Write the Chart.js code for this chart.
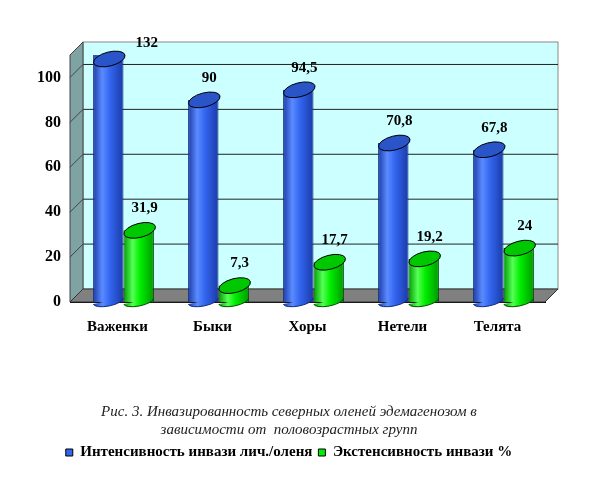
<!DOCTYPE html>
<html>
<head>
<meta charset="utf-8">
<script src="https://cdn.jsdelivr.net/npm/chart.js@4.4.0/dist/chart.umd.min.js"></script>
<style>
  html, body { margin: 0; padding: 0; background: #fff; }
  #box { width: 590px; height: 490px; }
</style>
</head>
<body>
<div id="box"><canvas id="grafico"></canvas></div>
<script>
const categorias = ['Важенки', 'Быки', 'Хоры', 'Нетели', 'Телята'];
const intensivnost = [132, 90, 94.5, 70.8, 67.8];
const ekstensivnost = [31.9, 7.3, 17.7, 19.2, 24];
const ticksY = [0, 20, 40, 60, 80, 100];

const DX = 13, DY = -13; // глубина 3D
const SDVIG = 6;          // столбцы стоят посередине глубины
const SERIF = '"Liberation Serif", "Times New Roman", serif';

// градиент цилиндра по ширине столбца
function cilindro(c, bar, p) {
  const g = c.createLinearGradient(bar.x - bar.width / 2, 0, bar.x + bar.width / 2, 0);
  g.addColorStop(0, p.dark);
  g.addColorStop(0.3, p.light);
  g.addColorStop(0.55, p.mid);
  g.addColorStop(1, p.dark);
  return g;
}
const paleta = [
  { light: '#5b8bff', mid: '#3366f0', dark: '#1a3aa8', top: '#2a55c8', line: '#102a78' },
  { light: '#55ff55', mid: '#00ee00', dark: '#009900', top: '#00c800', line: '#004d00' }
];

// стены и пол псевдо-3D
const fon3d = {
  id: 'fon3d',
  beforeDatasetsDraw(chart) {
    const c = chart.ctx, a = chart.chartArea;
    c.save();
    // задняя стена
    c.fillStyle = '#ccffff';
    c.fillRect(a.left + DX, a.top + DY, a.right - a.left, a.bottom - a.top);
    c.strokeStyle = '#888';
    c.lineWidth = 1;
    c.strokeRect(a.left + DX, a.top + DY, a.right - a.left, a.bottom - a.top);
    const y = chart.scales.y;
    c.strokeStyle = '#222';
    ticksY.forEach(v => {
      if (v === 0) return;
      const py = y.getPixelForValue(v);
      c.beginPath();
      c.moveTo(a.left + DX, py + DY);
      c.lineTo(a.right + DX, py + DY);
      c.stroke();
    });
    // боковая стена
    c.fillStyle = '#7fa3a3';
    c.beginPath();
    c.moveTo(a.left, a.top);
    c.lineTo(a.left + DX, a.top + DY);
    c.lineTo(a.left + DX, a.bottom + DY);
    c.lineTo(a.left, a.bottom);
    c.closePath();
    c.fill();
    c.strokeStyle = '#444';
    c.stroke();
    ticksY.forEach(v => {
      if (v === 0) return;
      const py = y.getPixelForValue(v);
      c.beginPath();
      c.moveTo(a.left, py);
      c.lineTo(a.left + DX, py + DY);
      c.stroke();
    });
    // пол
    c.fillStyle = '#808080';
    c.beginPath();
    c.moveTo(a.left, a.bottom);
    c.lineTo(a.left + DX, a.bottom + DY);
    c.lineTo(a.right + DX, a.bottom + DY);
    c.lineTo(a.right, a.bottom);
    c.closePath();
    c.fill();
    c.strokeStyle = '#333';
    c.stroke();
    c.restore();

    // заливка столбцов градиентом (элементы уже расставлены шкалами)
    chart.data.datasets.forEach((ds, i) => {
      const p = paleta[i];
      chart.getDatasetMeta(i).data.forEach(bar => {
        bar.options.backgroundColor = cilindro(chart.ctx, bar, p);
        bar.options.borderColor = p.line;
      });
    });
    c.save();
    c.translate(SDVIG, 0);
  },
  afterDatasetsDraw(chart) {
    const c = chart.ctx, a = chart.chartArea;
    chart.data.datasets.forEach((ds, i) => {
      const p = paleta[i];
      chart.getDatasetMeta(i).data.forEach(bar => {
        const w = bar.width;
        const cx = bar.x;
        const top = Math.max(bar.y, a.top + 4);
        // низ цилиндра
        c.beginPath();
        c.ellipse(cx, bar.base - 1, w / 2, 5, -0.2, 0, Math.PI);
        c.fillStyle = cilindro(c, bar, p);
        c.fill();
        c.strokeStyle = p.line;
        c.lineWidth = 1;
        c.stroke();
        // верх цилиндра
        c.beginPath();
        c.ellipse(cx + 1, top, w / 2 + 1, 7, -0.25, 0, Math.PI * 2);
        c.fillStyle = p.top;
        c.fill();
        c.strokeStyle = '#000';
        c.stroke();
      });
    });
    c.restore();

    // подписи значений
    c.save();
    c.font = 'bold 15px ' + SERIF;
    c.fillStyle = '#000';
    c.textAlign = 'center';
    c.textBaseline = 'middle';
    chart.data.datasets.forEach((ds, i) => {
      chart.getDatasetMeta(i).data.forEach((bar, j) => {
        const txt = String(ds.data[j]).replace('.', ',');
        let lx = bar.x + SDVIG + 6, ly = bar.y - 22;
        if (ly < a.top - 12) { ly = a.top - 12; lx = bar.x + SDVIG + bar.width + 8; }
        c.fillText(txt, lx, ly);
      });
    });
    c.restore();
  }
};

new Chart(document.getElementById('grafico'), {
  type: 'bar',
  data: {
    labels: categorias,
    datasets: [{
      label: 'Интенсивность инвази лич./оленя',
      data: intensivnost,
      backgroundColor: () => paleta[0].mid,
      borderWidth: 1
    }, {
      label: 'Экстенсивность инвази %',
      data: ekstensivnost,
      backgroundColor: () => paleta[1].mid,
      borderWidth: 1
    }]
  },
  options: {
    responsive: true,
    maintainAspectRatio: false,
    animation: false,
    devicePixelRatio: 1,
    categoryPercentage: 0.64,
    barPercentage: 1.0,
    layout: { padding: { top: 55, right: 45, left: 33, bottom: 20 } },
    scales: {
      x: {
        grid: { display: false, drawTicks: true, tickLength: 6 },
        border: { color: '#000' },
        ticks: {
          color: '#000',
          font: { family: SERIF, size: 15, weight: 'bold' },
          padding: 10
        }
      },
      y: {
        min: 0,
        max: 110,
        afterBuildTicks: s => { s.ticks = ticksY.map(v => ({ value: v })); },
        grid: { display: false, drawTicks: true, tickLength: 5 },
        border: { color: '#000' },
        ticks: {
          color: '#000',
          font: { family: SERIF, size: 16, weight: 'bold' },
          padding: 4
        }
      }
    },
    plugins: {
      title: {
        display: true,
        position: 'bottom',
        text: ['Рис. 3. Инвазированность северных оленей эдемагенозом в', 'зависимости от  половозрастных групп'],
        color: '#222',
        font: { family: SERIF, size: 15, style: 'italic', weight: 'normal', lineHeight: 1.2 },
        padding: { top: 57, bottom: 0 }
      },
      legend: {
        position: 'bottom',
        weight: 3000,
        labels: {
          color: '#000',
          boxWidth: 7,
          boxHeight: 7,
          padding: 6,
          font: { family: SERIF, size: 15, weight: 'bold' },
          generateLabels: chart => chart.data.datasets.map((ds, i) => ({
            text: ds.label,
            fillStyle: paleta[i].mid,
            strokeStyle: '#000',
            lineWidth: 1,
            datasetIndex: i
          }))
        }
      },
      tooltip: { enabled: false }
    }
  },
  plugins: [fon3d]
});
</script>
</body>
</html>
